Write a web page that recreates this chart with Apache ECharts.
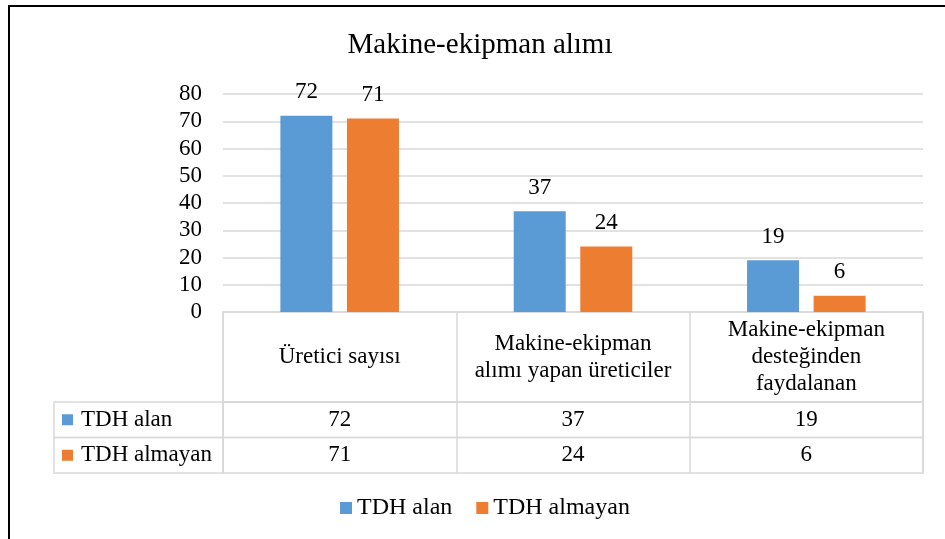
<!DOCTYPE html>
<html>
<head>
<meta charset="utf-8">
<script src="https://cdn.jsdelivr.net/npm/echarts@6/dist/echarts.min.js"></script>
<style>
  html, body { margin: 0; padding: 0; background: #fff; }
  #frame { position: absolute; left: 8px; top: 5px; width: 945px; height: 545px;
           border-left: 2px solid #000; border-top: 2px solid #000; }
  #main { position: absolute; left: 0; top: 0; width: 945px; height: 539px; }
</style>
</head>
<body>
<div id="frame"></div>
<div id="main"></div>
<script>
// chart data
const categories = ['Üretici sayısı', 'Makine-ekipman\nalımı yapan üreticiler', 'Makine-ekipman\ndesteğinden\nfaydalanan'];
const seriesNames = ['TDH alan', 'TDH almayan'];
const tdhAlan = [72, 37, 19];
const tdhAlmayan = [71, 24, 6];
const yTicks = [0, 10, 20, 30, 40, 50, 60, 70, 80];

const colors = ['#5b9bd5', '#ed7d31'];
const font = "'Liberation Serif', 'Times New Roman', serif";
const lineCol = '#d9d9d9';
const rows = [tdhAlan, tdhAlmayan];

let chart = echarts.init(document.getElementById('main'), null, { renderer: 'canvas' });

// table cells: header row, two value rows, two row-name cells
const grids = [
  { left: 223, width: 700, top: 94, height: 218 },
  { left: 223, width: 700, top: 312, height: 90 },
  { left: 223, width: 700, top: 402, height: 35.5 },
  { left: 223, width: 700, top: 437.5, height: 35.5 },
  { left: 54, width: 169, top: 402, height: 35.5 },
  { left: 54, width: 169, top: 437.5, height: 35.5 }
];
grids.forEach((g, i) => {
  if (i > 0) {
    g.show = true;
    g.borderColor = lineCol;
    g.borderWidth = 1.5;
    g.backgroundColor = 'transparent';
  }
});

function tableXAxis(gridIndex, labelFn, margin) {
  return {
    type: 'category', gridIndex: gridIndex, data: categories, position: 'bottom',
    axisLine: { show: false }, axisTick: { show: false },
    splitLine: { show: true, lineStyle: { color: lineCol, width: 1.5 } },
    axisLabel: {
      inside: true, interval: 0, margin: margin, verticalAlign: 'middle',
      fontFamily: font, fontSize: 23, color: '#000', lineHeight: 27,
      formatter: labelFn
    }
  };
}

var option = {
  animation: false,
  title: {
    text: 'Makine-ekipman alımı',
    left: 480, top: 31, textAlign: 'center', padding: 0,
    textStyle: { fontFamily: font, fontSize: 29, fontWeight: 'normal', color: '#000' }
  },
  legend: {
    data: seriesNames,
    left: 340, top: 496, padding: 0, icon: 'rect', itemWidth: 12, itemHeight: 12, itemGap: 24,
    textStyle: { fontFamily: font, fontSize: 24, color: '#000' }
  },
  grid: grids,
  xAxis: [
    { type: 'category', gridIndex: 0, data: categories, axisLine: { show: false },
      axisTick: { show: false }, axisLabel: { show: false } },
    tableXAxis(1, v => v, 45),
    tableXAxis(2, (v, i) => String(tdhAlan[i]), 17.75),
    tableXAxis(3, (v, i) => String(tdhAlmayan[i]), 17.75),
    { type: 'value', gridIndex: 4, show: false },
    { type: 'value', gridIndex: 5, show: false }
  ],
  yAxis: [
    { type: 'value', gridIndex: 0, min: yTicks[0], max: yTicks[yTicks.length - 1], interval: 10,
      axisLine: { show: false }, axisTick: { show: false },
      splitLine: { lineStyle: { color: lineCol, width: 1.5 } },
      axisLabel: { margin: 21, fontFamily: font, fontSize: 23, color: '#000' } },
    { type: 'value', gridIndex: 1, show: false },
    { type: 'value', gridIndex: 2, show: false },
    { type: 'value', gridIndex: 3, show: false }
  ].concat(seriesNames.map((name, k) => ({
    type: 'category', gridIndex: 4 + k, data: [name],
    axisLine: { show: false }, axisTick: { show: false },
    axisLabel: {
      inside: true, align: 'left', margin: 8,
      formatter: v => '{sq|}{t|' + v + '}',
      rich: {
        sq: { width: 11, height: 11, backgroundColor: colors[k] },
        t: { fontFamily: font, fontSize: 23, color: '#000', padding: [0, 0, 0, 8] }
      }
    }
  }))),
  series: seriesNames.map((name, k) => ({
    name: name,
    type: 'bar',
    xAxisIndex: 0, yAxisIndex: 0,
    data: rows[k],
    barWidth: 52,
    barGap: '28%',
    itemStyle: { color: colors[k] },
    label: { show: true, position: 'top', distance: 12,
      fontFamily: font, fontSize: 23, color: '#000' }
  }))
};

chart.setOption(option);
</script>
</body>
</html>
